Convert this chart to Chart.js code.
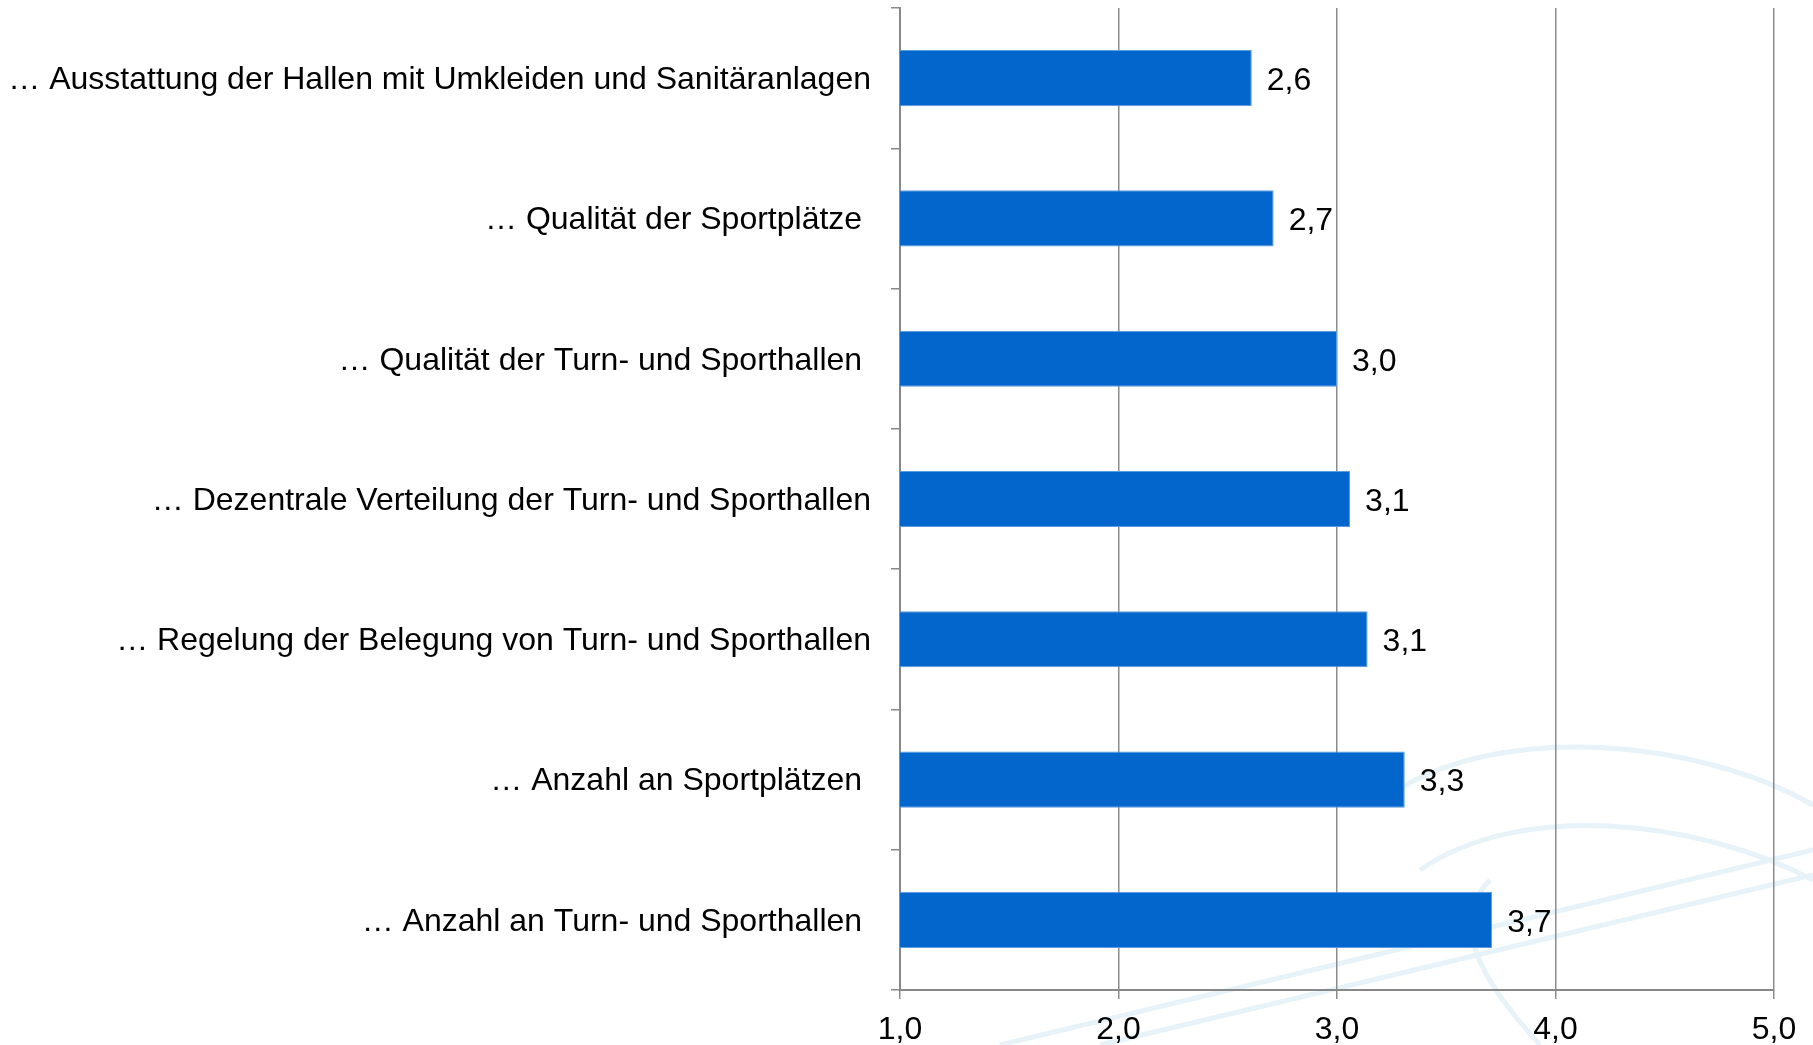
<!DOCTYPE html>
<html>
<head>
<meta charset="utf-8">
<script src="https://cdn.jsdelivr.net/npm/chart.js@4.4.1/dist/chart.umd.min.js"></script>
<style>
    html, body { margin: 0; padding: 0; background: #fff; }
    #wrap { width: 1813px; height: 1045px; position: relative; }
</style>
</head>
<body>
<div id="wrap"><canvas id="chart" width="1813" height="1045"></canvas></div>
<script>
const categories = [
    '… Ausstattung der Hallen mit Umkleiden und Sanitäranlagen',
    '… Qualität der Sportplätze ',
    '… Qualität der Turn- und Sporthallen ',
    '… Dezentrale Verteilung der Turn- und Sporthallen',
    '… Regelung der Belegung von Turn- und Sporthallen',
    '… Anzahl an Sportplätzen ',
    '… Anzahl an Turn- und Sporthallen '
]
const values = [2.61, 2.71, 3.0, 3.06, 3.14, 3.31, 3.71]
const xTicks = [1, 2, 3, 4, 5]

const fmt = v => v.toFixed(1).replace('.', ',')
const font = { family: '"Liberation Sans", Arial, sans-serif', size: 32 }

// faint swoosh in the background, bottom right
const backdrop = {
    id: 'backdrop',
    beforeDraw(chart) {
        const c = chart.ctx
        c.save()
        c.strokeStyle = 'rgba(175, 212, 235, 0.3)'
        c.lineWidth = 5
        c.beginPath()
        c.moveTo(1390, 795)
        c.bezierCurveTo(1500, 720, 1700, 740, 1813, 805)
        c.moveTo(1420, 870)
        c.bezierCurveTo(1520, 800, 1700, 820, 1813, 880)
        c.moveTo(1000, 1045)
        c.lineTo(1813, 850)
        c.moveTo(1100, 1045)
        c.lineTo(1813, 875)
        c.moveTo(1490, 880)
        c.bezierCurveTo(1440, 930, 1500, 1000, 1540, 1045)
        c.stroke()
        c.restore()
    }
}

const valueLabels = {
    id: 'valueLabels',
    afterDatasetsDraw(chart) {
        const c = chart.ctx
        c.save()
        c.font = `${font.size}px ${font.family}`
        c.fillStyle = '#000'
        c.textBaseline = 'middle'
        chart.getDatasetMeta(0).data.forEach((bar, i) => {
            c.fillText(fmt(values[i]), bar.x + 15, bar.y + 3)
        })
        c.restore()
    }
}

const ctx = document.getElementById('chart').getContext('2d')
const chart = new Chart(ctx, {
    type: 'bar',
    data: {
        labels: categories,
        datasets: [{
            data: values,
            backgroundColor: '#0366cc',
            borderColor: '#5b9be0',
            borderWidth: 1,
            borderSkipped: 'left',
            barPercentage: 0.4,
            categoryPercentage: 1
        }]
    },
    options: {
        indexAxis: 'y',
        responsive: false,
        animation: false,
        layout: { padding: { top: 8, right: 39, left: 0, bottom: 0 } },
        plugins: { legend: { display: false }, tooltip: { enabled: false } },
        scales: {
            x: {
                min: 1,
                max: 5,
                afterBuildTicks: s => { s.ticks = xTicks.map(v => ({ value: v })) },
                afterFit: s => { s.height = 55; s.paddingLeft = 0; s.paddingRight = 0 },
                border: { color: '#888', width: 2 },
                grid: { color: '#8c8c8c', lineWidth: 1.5, tickLength: 9 },
                ticks: { color: '#000', font: font, padding: 12, callback: v => fmt(v) }
            },
            y: {
                afterFit: s => { s.width = 900; s.paddingTop = 0; s.paddingBottom = 0 },
                border: { color: '#888', width: 2 },
                grid: { offset: true, drawOnChartArea: false, color: '#888', lineWidth: 1.5, tickLength: 9 },
                ticks: { color: '#000', font: font, padding: 20, labelOffset: 2 }
            }
        }
    },
    plugins: [backdrop, valueLabels]
})
</script>
</body>
</html>
